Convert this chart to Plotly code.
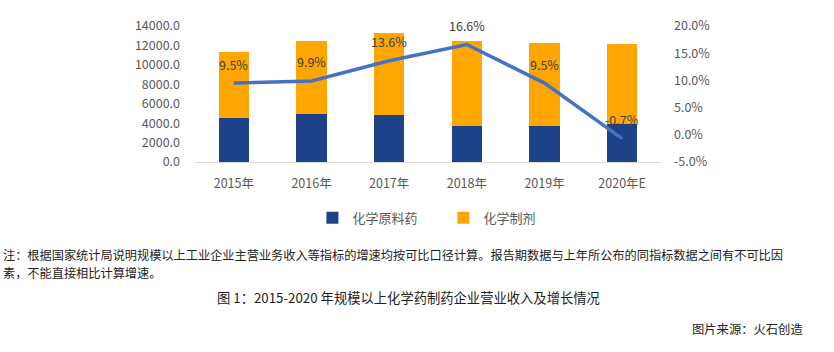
import plotly.graph_objects as go

years = ["2015年", "2016年", "2017年", "2018年", "2019年", "2020年E"]
api_revenue = [4580, 4960, 4890, 3730, 3730, 3960]          # 化学原料药
prep_revenue = [6720, 7490, 8350, 8720, 8520, 8190]          # 化学制剂
growth = [9.5, 9.9, 13.6, 16.6, 9.5, -0.7]                   # 增速 %

left_ticks = [0, 2000, 4000, 6000, 8000, 10000, 12000, 14000]
right_ticks = [-5, 0, 5, 10, 15, 20]

note_lines = [
    "注：根据国家统计局说明规模以上工业企业主营业务收入等指标的增速均按可比口径计算。"
    "报告期数据与上年所公布的同指标数据之间有不可比因",
    "素，不能直接相比计算增速。",
]
caption = "图 1：2015-2020 年规模以上化学药制药企业营业收入及增长情况"
source = "图片来源：火石创造"

FONT = "Noto Sans CJK SC"
TICK_COLOR = "#595959"

fig = go.Figure()
fig.add_trace(go.Bar(x=years, y=api_revenue, name="化学原料药",
                     marker=dict(color="#1E4289", line=dict(width=0))))
fig.add_trace(go.Bar(x=years, y=prep_revenue, name="化学制剂",
                     marker=dict(color="#FFA602", line=dict(width=0))))
fig.add_trace(go.Scatter(x=years, y=growth, yaxis="y2", mode="lines",
                         line=dict(color="#4472C4", width=3.5),
                         showlegend=False, hoverinfo="skip"))

for yr, g in zip(years, growth):
    fig.add_annotation(x=yr, y=g, yref="y2", text=f"{g:.1f}%", showarrow=False,
                       yshift=19, font=dict(family=FONT, size=12.5, color="#404040"))

fig.update_layout(
    width=834, height=352,
    margin=dict(l=195, r=173, t=26, b=190, pad=0),
    paper_bgcolor="white", plot_bgcolor="white",
    barmode="stack", bargap=0.61,
    font=dict(family=FONT, color=TICK_COLOR),
    xaxis=dict(showgrid=False, showline=True, linecolor="#D9D9D9", linewidth=1,
               ticks="", tickfont=dict(size=12.5, color=TICK_COLOR, family=FONT),
               ticklabelstandoff=10, fixedrange=True),
    yaxis=dict(range=[0, 14000], tickvals=left_ticks,
               ticktext=[f"{v:.1f}" for v in left_ticks],
               showgrid=False, zeroline=False, showline=False, ticks="",
               tickfont=dict(size=12.5, color=TICK_COLOR, family=FONT),
               ticklabelstandoff=14),
    yaxis2=dict(range=[-5, 20], tickvals=right_ticks,
                ticktext=[f"{v:.1f}%" for v in right_ticks],
                overlaying="y", side="right", showgrid=False, zeroline=False,
                showline=False, ticks="",
                tickfont=dict(size=12.5, color=TICK_COLOR, family=FONT),
                ticklabelstandoff=12),
    legend=dict(orientation="h", x=0.252, xanchor="left", y=-0.41, yanchor="middle",
                font=dict(family=FONT, size=13, color=TICK_COLOR),
                entrywidth=86, entrywidthmode="pixels", bgcolor="rgba(0,0,0,0)",
                traceorder="normal"),
)

PLOT_W, PLOT_H, X0, Y0 = 466, 136.3, 195, 162.3
for line, ypx in zip(note_lines, [255.5, 274]):
    fig.add_annotation(xref="paper", yref="paper", x=-X0 / PLOT_W + 2 / PLOT_W,
                       y=-(ypx - Y0) / PLOT_H, borderpad=0,
                       xanchor="left", yanchor="middle", align="left", showarrow=False,
                       text=line, font=dict(family=FONT, size=12.2, color="#222222"))
fig.add_annotation(xref="paper", yref="paper", x=(408 - X0) / PLOT_W, y=-(298 - Y0) / PLOT_H,
                   xanchor="center", yanchor="middle", showarrow=False,
                   text=caption, font=dict(family=FONT, size=13.3, color="#222222"))
fig.add_annotation(xref="paper", yref="paper", x=(805 - X0) / PLOT_W, y=-(330 - Y0) / PLOT_H,
                   xanchor="right", yanchor="middle", showarrow=False,
                   text=source, font=dict(family=FONT, size=12.3, color="#222222"))

fig.write_html("out.html")
